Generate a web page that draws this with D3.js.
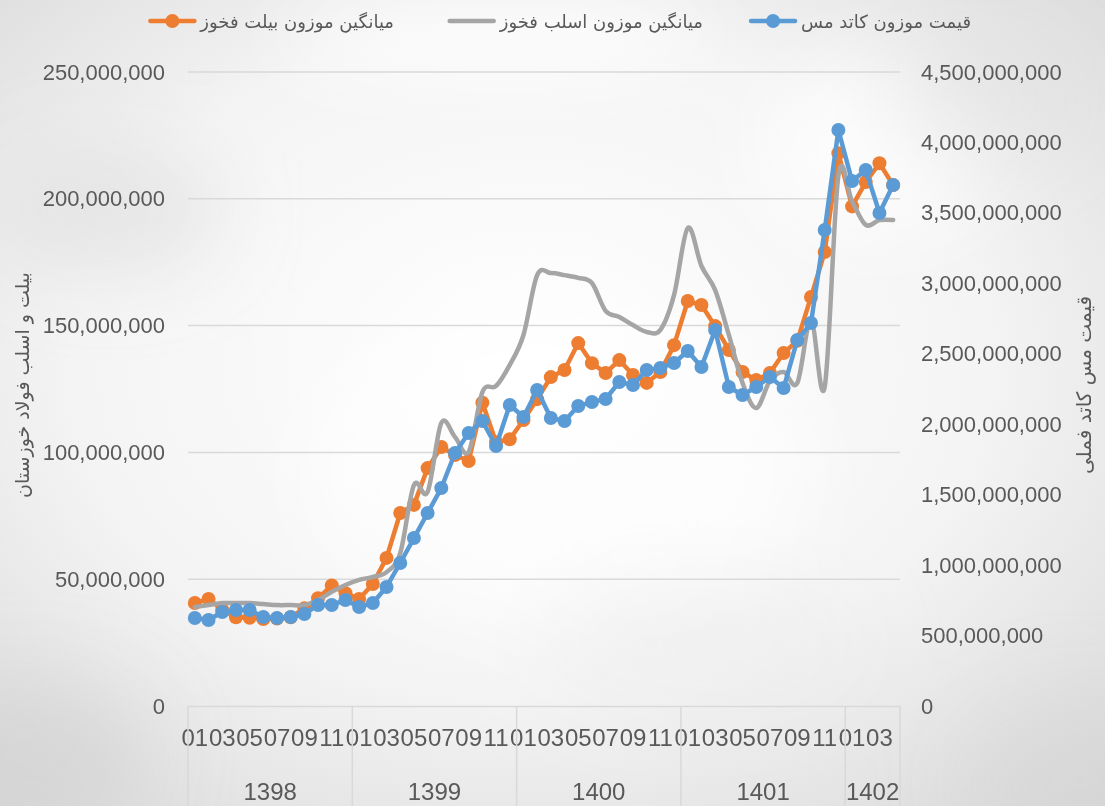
<!DOCTYPE html>
<html>
<head>
<meta charset="utf-8">
<script src="https://cdn.jsdelivr.net/npm/d3@7"></script>
<style>
  body { margin: 0; background: #eeeeee; }
  svg text { font-family: 'Liberation Sans', Arial, sans-serif; fill: #595959; }
  svg text.fa { font-family: 'DejaVu Sans', sans-serif; }
</style>
</head>
<body>
<svg id="chart" width="1105" height="806"></svg>
<script>
// categories: persian years, months shown every other month
const years = ['1398', '1399', '1400', '1401', '1402'];
const monthsInYear = [12, 12, 12, 12, 4];
const monthLabels = ['01', '02', '03', '04', '05', '06', '07', '08', '09', '10', '11', '12'];

const leftTicks = [0, 50e6, 100e6, 150e6, 200e6, 250e6];
const rightTicks = [0, 5e8, 10e8, 15e8, 20e8, 25e8, 30e8, 35e8, 40e8, 45e8];

const seriesNames = ['میانگین موزون بیلت فخوز', 'میانگین موزون اسلب فخوز', 'قیمت موزون کاتد مس'];
const seriesColors = ['#ED7D31', '#A5A5A5', '#5B9BD5'];

// billet weighted avg (million), left axis
const billet = [40.6, 42.2, 38.0, 35.0, 34.8, 34.3, 34.5, 35.0, 38.5, 42.5, 47.5, 44.5,
  42.2, 48.1, 58.4, 76.1, 79.3, 93.8, 102.1, 99.0, 96.6, 119.6, 104.0, 105.2,
  112.8, 121.0, 129.7, 132.5, 143.1, 135.2, 131.3, 136.4, 130.5, 127.4, 131.7, 142.3,
  159.7, 158.1, 149.8, 140.4, 131.7, 128.5, 131.3, 139.2, 144.0, 161.3, 179.0, 218.0,
  197.0, 206.6, 214.0, 205.4];

// slab weighted avg (million), left axis
const slab = [39.0, 39.8, 40.6, 40.6, 40.6, 40.2, 39.8, 39.8, 39.8, 41.8, 45.0, 47.7,
  49.7, 50.9, 52.8, 60.3, 87.1, 84.4, 111.6, 106.1, 100.2, 123.8, 126.2, 134.5,
  146.3, 169.9, 170.7, 169.9, 168.8, 166.8, 155.8, 153.4, 150.2, 147.5, 148.3, 162.1,
  188.5, 173.5, 164.0, 146.3, 127.4, 117.5, 128.2, 131.7, 127.4, 152.2, 125.8, 209.0,
  199.0, 189.7, 191.6, 191.6];

// copper cathode price (million), right axis
const copper = [625, 610, 667, 681, 681, 632, 625, 632, 653, 717, 717, 752,
  703, 731, 845, 1015, 1192, 1370, 1547, 1796, 1938, 2023, 1845, 2136,
  2051, 2243, 2044, 2023, 2129, 2158, 2179, 2300, 2278, 2385, 2399, 2435,
  2520, 2406, 2669, 2264, 2207, 2264, 2335, 2257, 2598, 2718, 3379, 4088,
  3726, 3804, 3499, 3698];

let cats = [];
years.forEach((y, yi) => {
  for (let m = 0; m < monthsInYear[yi]; m++) cats.push({ year: y, month: monthLabels[m] });
});

const svg = d3.select('#chart');
const plotLeft = 188, plotRight = 900, plotTop = 72, plotBottom = 706;

// background, soft paper-like shading
const defs = svg.append('defs');
const rg = defs.append('radialGradient').attr('id', 'bg')
  .attr('cx', '48%').attr('cy', '45%').attr('r', '75%');
rg.append('stop').attr('offset', '0%').attr('stop-color', '#ffffff');
rg.append('stop').attr('offset', '55%').attr('stop-color', '#f4f4f4');
rg.append('stop').attr('offset', '100%').attr('stop-color', '#d8d8d8');
defs.append('filter').attr('id', 'blur')
  .attr('x', '-50%').attr('y', '-50%').attr('width', '200%').attr('height', '200%')
  .append('feGaussianBlur').attr('stdDeviation', 40);

svg.append('rect').attr('width', 1105).attr('height', 806).attr('fill', 'url(#bg)');
const blobs = [
  [500, 40, 220, 40, '#ffffff', 0.8], [870, 150, 120, 90, '#ffffff', 0.7],
  [560, 470, 260, 160, '#ffffff', 0.6], [110, 210, 110, 60, '#dcdcdc', 0.6],
  [980, 100, 90, 60, '#e0e0e0', 0.5], [30, 760, 120, 80, '#d0d0d0', 0.6],
  [1080, 780, 120, 80, '#d6d6d6', 0.5], [700, 640, 160, 60, '#ececec', 0.5]
];
svg.append('g').attr('filter', 'url(#blur)')
  .selectAll('ellipse').data(blobs).join('ellipse')
  .attr('cx', d => d[0]).attr('cy', d => d[1])
  .attr('rx', d => d[2]).attr('ry', d => d[3])
  .attr('fill', d => d[4]).attr('opacity', d => d[5]);

// scales
const x = d3.scaleBand().domain(d3.range(cats.length)).range([plotLeft, plotRight]);
const cx = i => x(i) + x.bandwidth() / 2;
const yL = d3.scaleLinear().domain([0, 250e6]).range([plotBottom, plotTop]);
const yR = d3.scaleLinear().domain([0, 4.5e9]).range([plotBottom, plotTop]);

// gridlines
svg.append('g').selectAll('line').data(leftTicks.slice(1)).join('line')
  .attr('x1', plotLeft).attr('x2', plotRight)
  .attr('y1', d => yL(d)).attr('y2', d => yL(d))
  .attr('stroke', '#d9d9d9').attr('stroke-width', 1.5);

// y axes
svg.append('g').attr('transform', `translate(${plotLeft},0)`)
  .call(d3.axisLeft(yL).tickValues(leftTicks).tickFormat(d3.format(',')).tickSize(0).tickPadding(23))
  .call(g => g.select('.domain').remove())
  .selectAll('text').style('font-size', '22px').attr('fill', '#595959');

svg.append('g').attr('transform', `translate(${plotRight},0)`)
  .call(d3.axisRight(yR).tickValues(rightTicks).tickFormat(d3.format(',')).tickSize(0).tickPadding(21))
  .call(g => g.select('.domain').remove())
  .selectAll('text').style('font-size', '22px').attr('fill', '#595959');

// x axis, month labels
const xAxis = svg.append('g').attr('transform', `translate(0,${plotBottom})`)
  .call(d3.axisBottom(x).tickValues(d3.range(0, cats.length, 2))
    .tickFormat(i => cats[i].month).tickSize(0).tickPadding(23));
xAxis.select('.domain').attr('stroke', '#d9d9d9').attr('stroke-width', 1.5);
xAxis.selectAll('text').style('font-size', '24px').attr('fill', '#595959');

// year groups
let bounds = [0];
monthsInYear.forEach(n => bounds.push(bounds[bounds.length - 1] + n));
const bx = b => b < cats.length ? x(b) : plotRight;
svg.append('g').selectAll('line').data(bounds).join('line')
  .attr('x1', bx).attr('x2', bx).attr('y1', plotBottom).attr('y2', 806)
  .attr('stroke', '#d9d9d9').attr('stroke-width', 1.5);
svg.append('g').selectAll('text').data(years).join('text')
  .attr('x', (d, i) => (bx(bounds[i]) + bx(bounds[i + 1])) / 2)
  .attr('y', 800).attr('text-anchor', 'middle')
  .style('font-size', '24px').text(d => d);

// series
const lineL = d3.line().x((d, i) => cx(i)).y(d => yL(d * 1e6));
const lineR = d3.line().x((d, i) => cx(i)).y(d => yR(d * 1e6));

svg.append('path').datum(billet).attr('d', lineL)
  .attr('fill', 'none').attr('stroke', seriesColors[0]).attr('stroke-width', 4.5)
  .attr('stroke-linejoin', 'round');
svg.append('g').selectAll('circle').data(billet).join('circle')
  .attr('cx', (d, i) => cx(i)).attr('cy', d => yL(d * 1e6)).attr('r', 7)
  .attr('fill', seriesColors[0]);

svg.append('path').datum(slab).attr('d', lineL.curve(d3.curveCardinal.tension(0)))
  .attr('fill', 'none').attr('stroke', seriesColors[1]).attr('stroke-width', 4.5)
  .attr('stroke-linecap', 'round');

svg.append('path').datum(copper).attr('d', lineR)
  .attr('fill', 'none').attr('stroke', seriesColors[2]).attr('stroke-width', 4.5)
  .attr('stroke-linejoin', 'round');
svg.append('g').selectAll('circle').data(copper).join('circle')
  .attr('cx', (d, i) => cx(i)).attr('cy', d => yR(d * 1e6)).attr('r', 7)
  .attr('fill', seriesColors[2]);

// axis titles
svg.append('text').attr('class', 'fa')
  .attr('transform', 'translate(29,385) rotate(-90)')
  .attr('text-anchor', 'middle').style('font-size', '19px')
  .text('بیلت و اسلب فولاد خوزستان');
svg.append('text').attr('class', 'fa')
  .attr('transform', 'translate(1091,385) rotate(-90)')
  .attr('text-anchor', 'middle').style('font-size', '20px')
  .text('قیمت مس کاتد فملی');

// legend (right edges of labels)
const legendRight = [394, 703, 971];
const legend = svg.append('g');
seriesNames.forEach((name, i) => {
  const t = legend.append('text').attr('class', 'fa')
    .attr('x', legendRight[i]).attr('y', 28)
    .attr('text-anchor', 'end').style('font-size', '18px').text(name);
  const w = t.node().getComputedTextLength();
  const x1 = legendRight[i] - w - 6;
  legend.append('line')
    .attr('x1', x1 - 44).attr('x2', x1).attr('y1', 21).attr('y2', 21)
    .attr('stroke', seriesColors[i]).attr('stroke-width', 4.5).attr('stroke-linecap', 'round');
  if (i !== 1) {
    legend.append('circle').attr('cx', x1 - 22).attr('cy', 21).attr('r', 7)
      .attr('fill', seriesColors[i]);
  }
});
</script>
</body>
</html>
